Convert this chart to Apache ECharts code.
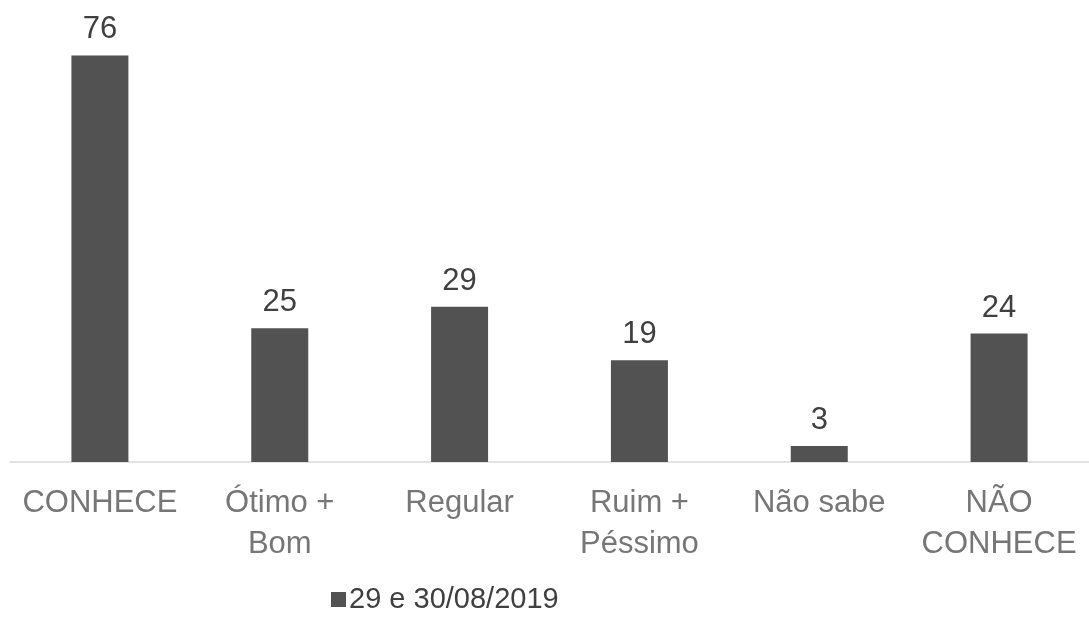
<!DOCTYPE html>
<html>
<head>
<meta charset="utf-8">
<script src="https://cdn.jsdelivr.net/npm/echarts@6/dist/echarts.min.js"></script>
<style>html,body{margin:0;padding:0;background:#fff;}#c{width:1089px;height:629px;}</style>
</head>
<body>
<div id="c"></div>
<script>
const categories = ['CONHECE', 'Ótimo +\nBom', 'Regular', 'Ruim +\nPéssimo', 'Não sabe', 'NÃO\nCONHECE'];
const seriesName = '29 e 30/08/2019';
const values = [76, 25, 29, 19, 3, 24];

const chart = echarts.init(document.getElementById('c'));
chart.setOption({
  animation: false,
  textStyle: { fontFamily: 'Liberation Sans, Arial, sans-serif' },
  grid: { left: 10, top: 34, width: 1087, height: 428, containLabel: false },
  legend: {
    data: [seriesName],
    bottom: 10,
    left: 326,
    itemWidth: 15, itemHeight: 15, itemGap: 4,
    icon: 'rect',
    textStyle: { fontSize: 29, color: '#404040', fontFamily: 'Liberation Sans, Arial, sans-serif', padding: [0,0,0,-2] }
  },
  xAxis: {
    type: 'category',
    data: categories,
    axisLine: { lineStyle: { color: '#d9d9d9', width: 1.5 } },
    axisTick: { show: false },
    axisLabel: { fontSize: 31, color: '#767676', lineHeight: 41, margin: 21, interval: 0, fontFamily: 'Liberation Sans, Arial, sans-serif' }
  },
  yAxis: { type: 'value', min: 0, max: 80, show: false, splitLine: { show: false } },
  series: [{
    name: seriesName,
    type: 'bar',
    data: values,
    barWidth: 57,
    itemStyle: { color: '#525252' },
    label: { show: true, position: 'top', distance: 10, fontSize: 31, color: '#404040', fontFamily: 'Liberation Sans, Arial, sans-serif' }
  }]
});
</script>
</body>
</html>
